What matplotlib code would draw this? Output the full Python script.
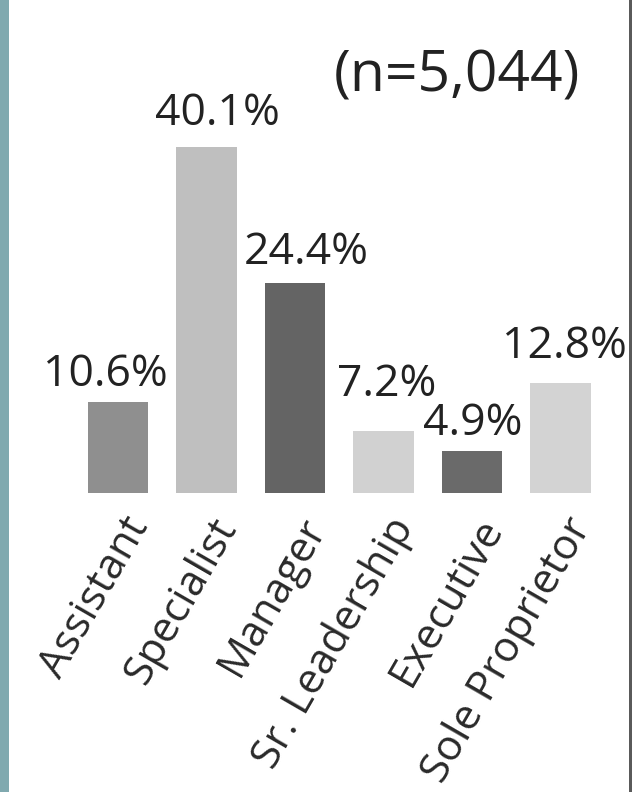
import matplotlib
matplotlib.use("Agg")
import matplotlib.pyplot as plt
import matplotlib.transforms as mtransforms
import numpy as np

# job level breakdown of respondents
roles = ["Assistant", "Specialist", "Manager", "Sr. Leadership",
         "Executive", "Sole Proprietor"]
shares = [10.6, 40.1, 24.4, 7.2, 4.9, 12.8]
sample_note = "(n=5,044)"

bar_colors = ["#8f8f8f", "#bfbfbf", "#646464", "#d1d1d1", "#6a6a6a", "#d3d3d3"]
# label nudges in pixels (x, gap above bar)
label_dx = [-13, 11, 11, 3, 1, 4]
label_gap = [16, 22, 19, 35, 16, 25]

plt.rcParams["font.family"] = ["Open Sans", "DejaVu Sans"]

DPI = 100
fig = plt.figure(figsize=(6.43, 7.92), dpi=DPI)
fig.patch.set_facecolor("white")

# slide edge on the left and frame line on the right
fig.add_artist(plt.Rectangle((0, 0), 9 / 643, 1, transform=fig.transFigure,
                             color="#80a9af", lw=0))
fig.add_artist(plt.Rectangle((629 / 643, 0), 3 / 643, 1, transform=fig.transFigure,
                             color="#5a5a5a", lw=0))

ax = fig.add_axes([73.75 / 643, (792 - 493) / 792, 531 / 643, 388 / 792])
x = np.arange(len(roles))
ax.bar(x, shares, width=0.68, color=bar_colors, edgecolor="none")
ax.set_xlim(-0.5, len(roles) - 0.5)
ax.set_ylim(0, 45)

px = 72.0 / DPI
for i, v in enumerate(shares):
    ax.annotate(f"{v:.1f}%", (x[i], v),
                xytext=(label_dx[i] * px, label_gap[i] * px),
                textcoords="offset points", ha="center", va="baseline",
                fontsize=32, color="#222222")

ax.set_xticks(x)
ax.set_xticklabels(roles, rotation=60, ha="right", va="center",
                   rotation_mode="anchor", fontsize=30.5, color="#2a2a2a")
ax.tick_params(axis="x", length=0, pad=20)
# nudge the slanted labels a bit to the right
shift = mtransforms.ScaledTranslation(21 / DPI, 0, fig.dpi_scale_trans)
for lbl in ax.get_xticklabels():
    lbl.set_transform(lbl.get_transform() + shift)
ax.set_yticks([])
for s in ax.spines.values():
    s.set_visible(False)

fig.text(457 / 643, 1 - 92 / 792, sample_note, ha="center", va="baseline",
         fontsize=41, color="#222222")

fig.savefig("out.png", dpi=DPI)
